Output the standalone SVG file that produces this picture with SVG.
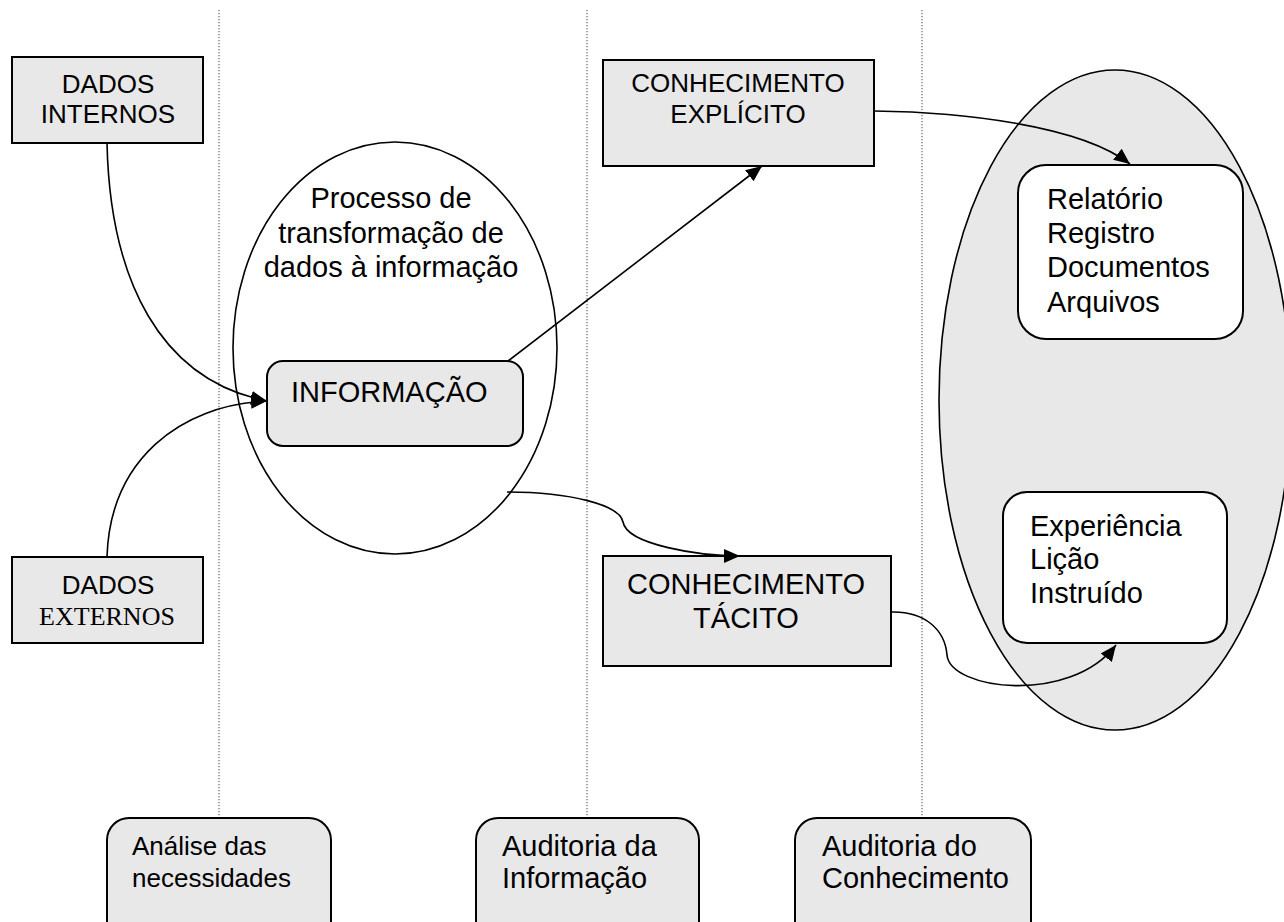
<svg xmlns="http://www.w3.org/2000/svg" width="1284" height="922" viewBox="0 0 1284 922">
<defs>
<style>
.box{fill:#e8e8e8;stroke:#000;stroke-width:2}
.wbox{fill:#fff;stroke:#000;stroke-width:2}
.ell{stroke:#000;stroke-width:1.6}
.t{font-family:"Liberation Sans",Arial,sans-serif;fill:#000}
.s{font-family:"Liberation Serif","Times New Roman",serif;fill:#000}
.conn{fill:none;stroke:#000;stroke-width:1.6}
.dot{stroke:#666;stroke-width:1.2;stroke-dasharray:1.2,1.8}
</style>
<marker id="arr" markerUnits="userSpaceOnUse" markerWidth="18" markerHeight="16" refX="16" refY="8" orient="auto">
<path d="M0,1 L16,8 L0,15 Z" fill="#000"/>
</marker>
</defs>
<rect width="1284" height="922" fill="#fff"/>
<g id="guides">
<line class="dot" x1="219" y1="10" x2="219" y2="818"/>
<line class="dot" x1="587" y1="10" x2="587" y2="818"/>
<line class="dot" x1="922" y1="10" x2="922" y2="818"/>
</g>
<g id="processo">
<ellipse class="ell" cx="395" cy="348" rx="162" ry="206" fill="#fff"/>
<text class="t" font-size="29" text-anchor="middle"><tspan x="391" y="208">Processo de</tspan><tspan x="391" y="243">transformação de</tspan><tspan x="391" y="277">dados à informação</tspan></text>
</g>
<g id="repositorio">
<ellipse class="ell" cx="1115" cy="400" rx="176" ry="330" fill="#e8e8e8"/>
</g>
<g id="dados-internos">
<rect class="box" x="12" y="57" width="191" height="86"/>
<text class="t" font-size="26" text-anchor="middle"><tspan x="108" y="93">DADOS</tspan><tspan x="108" y="123">INTERNOS</tspan></text>
</g>
<g id="dados-externos">
<rect class="box" x="12" y="557" width="191" height="86"/>
<text class="t" font-size="26" text-anchor="middle" x="108" y="594">DADOS</text>
<text class="s" font-size="26" text-anchor="middle" x="107" y="625">EXTERNOS</text>
</g>
<g id="informacao">
<rect class="box" x="267" y="361" width="256" height="85" rx="16"/>
<text class="t" font-size="29" x="291" y="402">INFORMAÇÃO</text>
</g>
<g id="explicito">
<rect class="box" x="603" y="60" width="271" height="106"/>
<text class="t" font-size="26" text-anchor="middle"><tspan x="738" y="92">CONHECIMENTO</tspan><tspan x="738" y="123">EXPLÍCITO</tspan></text>
</g>
<g id="tacito">
<rect class="box" x="603" y="556" width="288" height="110"/>
<text class="t" font-size="29" text-anchor="middle"><tspan x="746" y="594">CONHECIMENTO</tspan><tspan x="746" y="628">TÁCITO</tspan></text>
</g>
<g id="relatorio">
<rect class="wbox" x="1018" y="165" width="225" height="174" rx="28"/>
<text class="t" font-size="29"><tspan x="1047" y="209">Relatório</tspan><tspan x="1047" y="243">Registro</tspan><tspan x="1047" y="277">Documentos</tspan><tspan x="1047" y="312">Arquivos</tspan></text>
</g>
<g id="experiencia">
<rect class="wbox" x="1003" y="492" width="224" height="151" rx="24"/>
<text class="t" font-size="29"><tspan x="1030" y="536">Experiência</tspan><tspan x="1030" y="569">Lição</tspan><tspan x="1030" y="603">Instruído</tspan></text>
</g>
<g id="analise">
<rect class="box" x="107" y="818" width="224" height="130" rx="22"/>
<text class="t" font-size="26"><tspan x="132" y="855">Análise das</tspan><tspan x="132" y="887">necessidades</tspan></text>
</g>
<g id="auditoria-informacao">
<rect class="box" x="476" y="818" width="223" height="130" rx="22"/>
<text class="t" font-size="29"><tspan x="502" y="856">Auditoria da</tspan><tspan x="502" y="888">Informação</tspan></text>
</g>
<g id="auditoria-conhecimento">
<rect class="box" x="795" y="818" width="236" height="130" rx="22"/>
<text class="t" font-size="29"><tspan x="822" y="856">Auditoria do</tspan><tspan x="822" y="888">Conhecimento</tspan></text>
</g>
<g id="connectors">
<path class="conn" d="M107,143 C110,280 160,380 267,401" marker-end="url(#arr)"/>
<path class="conn" d="M107,557 C110,460 180,405 267,401" marker-end="url(#arr)"/>
<path class="conn" d="M508,361 L762,166" marker-end="url(#arr)"/>
<path class="conn" d="M874,111 C960,112 1080,125 1130,164" marker-end="url(#arr)"/>
<path class="conn" d="M507,492 C570,492 620,505 623,522 C627,545 700,556 740,556" marker-end="url(#arr)"/>
<path class="conn" d="M891,612 C925,611 945,630 947,655 C950,690 1070,705 1116,645" marker-end="url(#arr)"/>
</g>
</svg>
